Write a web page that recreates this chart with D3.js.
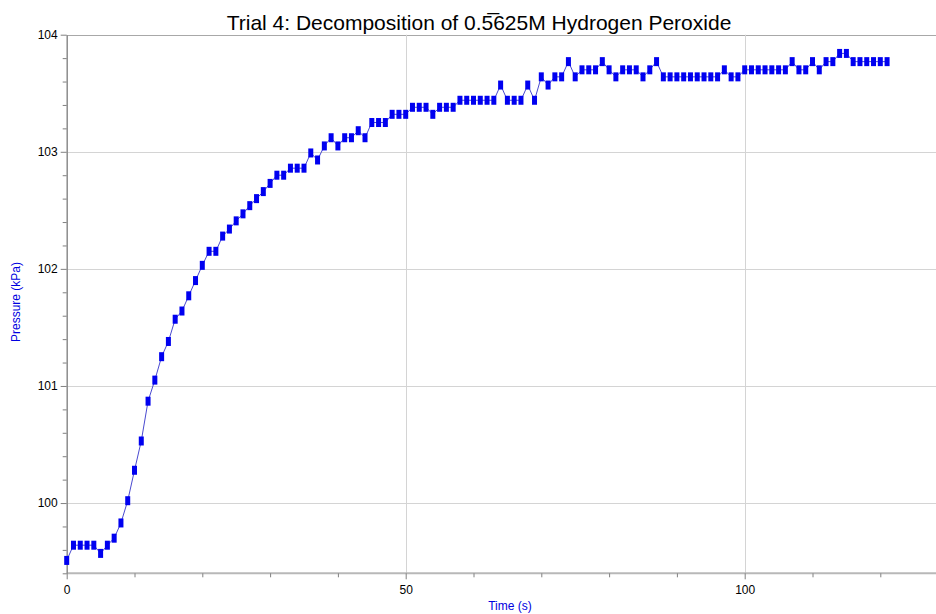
<!DOCTYPE html>
<html>
<head>
<meta charset="utf-8">
<script src="https://cdn.jsdelivr.net/npm/d3@7"></script>
<style>
  body { margin: 0; background: #fff; }
  svg { display: block; font-family: "Liberation Sans", Arial, sans-serif; }
  .axis text { font-size: 12px; fill: #000; }
  .axis line { stroke: #808080; }
  .axislabel { font-size: 12px; fill: #0000e0; }
</style>
</head>
<body>
<div id="chart"></div>
<script>
// Chart data
var chartTitle = "Trial 4: Decomposition of 0.5\u0305625M Hydrogen Peroxide",
    xLabelTxt = "Time (s)",
    yLabelTxt = "Pressure (kPa)";

var timeValues = [
    0, 1, 2, 3, 4, 5, 6, 7, 8, 9,
    10, 11, 12, 13, 14, 15, 16, 17, 18, 19,
    20, 21, 22, 23, 24, 25, 26, 27, 28, 29,
    30, 31, 32, 33, 34, 35, 36, 37, 38, 39,
    40, 41, 42, 43, 44, 45, 46, 47, 48, 49,
    50, 51, 52, 53, 54, 55, 56, 57, 58, 59,
    60, 61, 62, 63, 64, 65, 66, 67, 68, 69,
    70, 71, 72, 73, 74, 75, 76, 77, 78, 79,
    80, 81, 82, 83, 84, 85, 86, 87, 88, 89,
    90, 91, 92, 93, 94, 95, 96, 97, 98, 99,
    100, 101, 102, 103, 104, 105, 106, 107, 108, 109,
    110, 111, 112, 113, 114, 115, 116, 117, 118, 119,
    120, 121
];

var pressureValues = [
    99.51, 99.64, 99.64, 99.64, 99.64, 99.57, 99.64, 99.70, 99.83, 100.02,
    100.28, 100.53, 100.87, 101.05, 101.25, 101.38, 101.57, 101.64, 101.77, 101.90,
    102.03, 102.15, 102.15, 102.28, 102.34, 102.41, 102.47, 102.54, 102.60, 102.66,
    102.73, 102.80, 102.80, 102.86, 102.86, 102.86, 102.99, 102.93, 103.05, 103.12,
    103.05, 103.12, 103.12, 103.18, 103.12, 103.25, 103.25, 103.25, 103.32, 103.32,
    103.32, 103.38, 103.38, 103.38, 103.32, 103.38, 103.38, 103.38, 103.44, 103.44,
    103.44, 103.44, 103.44, 103.44, 103.57, 103.44, 103.44, 103.44, 103.57, 103.44,
    103.64, 103.57, 103.64, 103.64, 103.77, 103.64, 103.70, 103.70, 103.70, 103.77,
    103.70, 103.64, 103.70, 103.70, 103.70, 103.64, 103.70, 103.77, 103.64, 103.64,
    103.64, 103.64, 103.64, 103.64, 103.64, 103.64, 103.64, 103.70, 103.64, 103.64,
    103.70, 103.70, 103.70, 103.70, 103.70, 103.70, 103.70, 103.77, 103.70, 103.70,
    103.77, 103.70, 103.77, 103.77, 103.84, 103.84, 103.77, 103.77, 103.77, 103.77,
    103.77, 103.77
];

var xMajorTicks = [0, 50, 100],
    xMinorTicks = [10, 20, 30, 40, 60, 70, 80, 90, 110, 120],
    yMajorTicks = [100, 101, 102, 103, 104],
    yMinorTicks = [99.4, 99.6, 99.8, 100.2, 100.4, 100.6, 100.8, 101.2, 101.4, 101.6, 101.8,
                   102.2, 102.4, 102.6, 102.8, 103.2, 103.4, 103.6, 103.8];

// Global layout variables
var basewidth = 936,
    baseheight = 614,
    plot = { left: 66.7, top: 34.7, bottom: 573.3, pxPerSec: 6.78 },
    markerW = 5,
    markerH = 9;

var data = timeValues.map(function (t, i) { return { time: t, pressure: pressureValues[i] }; });

// setup scales
var xScale = d3.scaleLinear().domain([0, 130]).range([plot.left, plot.left + 130 * plot.pxPerSec]),
    yScale = d3.scaleLinear().domain([99.4, 104]).range([plot.bottom, plot.top]);

var svg = d3.select("#chart").append("svg")
    .attr("width", basewidth)
    .attr("height", baseheight);

// Grid lines (the top one at 104 acts as frame)
svg.append("g").selectAll("line")
    .data(yMajorTicks).enter()
    .append("line")
    .attr("x1", plot.left).attr("x2", basewidth)
    .attr("y1", function (d) { return Math.round(yScale(d)) + 0.5; })
    .attr("y2", function (d) { return Math.round(yScale(d)) + 0.5; })
    .attr("stroke", function (d) { return d == 104 ? "#a8a8a8" : "#d4d4d4"; })
    .attr("stroke-width", 1);

svg.append("g").selectAll("line")
    .data(xMajorTicks.slice(1)).enter()
    .append("line")
    .attr("y1", plot.top).attr("y2", plot.bottom)
    .attr("x1", function (d) { return Math.round(xScale(d)) + 0.5; })
    .attr("x2", function (d) { return Math.round(xScale(d)) + 0.5; })
    .attr("stroke", "#d4d4d4")
    .attr("stroke-width", 1);

// x-axis (major + minor ticks)
var xaxis_class = svg.append("g")
    .attr("class", "axis")
    .attr("transform", "translate(0," + plot.bottom + ")");
xaxis_class.call(d3.axisBottom(xScale).tickValues(xMajorTicks).tickFormat(d3.format("d"))
    .tickSize(6).tickPadding(6).tickSizeOuter(0));
xaxis_class.append("g")
    .call(d3.axisBottom(xScale).tickValues(xMinorTicks).tickSize(4).tickFormat("").tickSizeOuter(0))
    .select(".domain").remove();
xaxis_class.select(".domain")
    .attr("d", "M" + plot.left + ",0H" + basewidth)
    .attr("stroke", "#b8b8b8")
    .attr("stroke-width", 2);

// y-axis (major + minor ticks)
var yaxis_class = svg.append("g")
    .attr("class", "axis")
    .attr("transform", "translate(" + plot.left + ",0)");
yaxis_class.call(d3.axisLeft(yScale).tickValues(yMajorTicks).tickFormat(d3.format("d"))
    .tickSize(6).tickPadding(3).tickSizeOuter(0));
yaxis_class.append("g")
    .call(d3.axisLeft(yScale).tickValues(yMinorTicks).tickSize(4).tickFormat("").tickSizeOuter(0))
    .select(".domain").remove();
yaxis_class.select(".domain")
    .attr("stroke", "#8c8c8c")
    .attr("stroke-width", 1.5);

// Connecting line
var line = d3.line()
    .x(function (d) { return xScale(d.time); })
    .y(function (d) { return yScale(d.pressure); });

svg.append("path")
    .datum(data)
    .attr("d", line)
    .attr("fill", "none")
    .attr("stroke", "#4a4ad0")
    .attr("stroke-width", 1);

// draw markers
svg.selectAll(".dot")
    .data(data)
    .enter().append("rect")
    .attr("class", "dot")
    .attr("x", function (d) { return xScale(d.time) - markerW / 2; })
    .attr("y", function (d) { return yScale(d.pressure) - markerH / 2; })
    .attr("width", markerW)
    .attr("height", markerH)
    .attr("fill", "#0000f0");

// Title and axis labels
svg.append("text")
    .attr("x", 479)
    .attr("y", 30)
    .attr("text-anchor", "middle")
    .style("font-size", "21px")
    .text(chartTitle);

svg.append("text")
    .attr("class", "axislabel")
    .attr("x", 510)
    .attr("y", 610)
    .attr("text-anchor", "middle")
    .text(xLabelTxt);

svg.append("text")
    .attr("class", "axislabel")
    .attr("transform", "rotate(-90)")
    .attr("x", -302)
    .attr("y", 20)
    .attr("text-anchor", "middle")
    .text(yLabelTxt);
</script>
</body>
</html>
